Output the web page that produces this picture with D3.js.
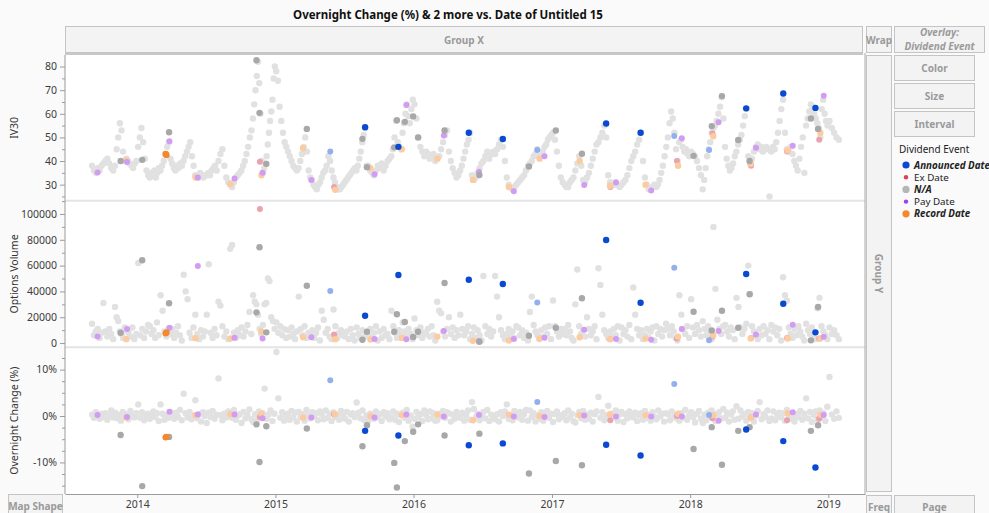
<!DOCTYPE html>
<meta charset="utf-8">
<style>
  body { margin: 0; background: #fafafa; }
  #chart svg { display: block; font-family: "Noto Sans", sans-serif; }
  .box { fill: #f3f3f3; stroke: #c4c4c4; stroke-width: 1; }
  .boxText { fill: #9a9a9a; font-size: 10px; font-weight: bold; text-anchor: middle; }
  .axis text { fill: #3c3c3c; font-size: 10.5px; font-family: "Noto Sans", sans-serif; }
  .axis path, .axis line { stroke: #9c9c9c; }
  .axisTitle { fill: #333; font-size: 10.5px; text-anchor: middle; }
</style>
<body>
<div id="chart"></div>
<script src="https://d3js.org/d3.v7.min.js"></script>
<script>
// ---- data ----
// N/A rows, grouped by month starting Sep 2013
const firstMonth = new Date(2013, 8, 1);

const iv30ByMonth = [
  [38,36,35,37,36,38], [39,40,41,39,37,36], [38,45,50,56,53,44,40], [41,40,39,38,37,39,40],
  [46,50,54,48,41,36,34], [33,35,34,36,33,35,37], [36,38,40,43,46,48,41], [39,37,36,38,37,39,38],
  [40,42,44,46,48,42,38], [34,33,33,35,34,33,34], [34,35,34,36,37,38,36], [40,43,45,38,33,31],
  [30,29,31,33,34,35], [36,38,40,43,46,50,53], [58,64,70,76,82,73,60,40,35], [37,39,42,47,52,57,61,66,75,80],
  [78,74,63,57,52,48,46], [44,42,40,38,37,36], [37,40,43,46,50,44,36], [33,32,30,29,28,30,31],
  [33,35,36,38,42,40,36], [33,31,29,28,28,29,30], [31,32,33,34,35,36,37], [36,38,41,44,48,51,54,38],
  [38,36,35,34,36,38], [37,39,36,38,40,41], [42,45,50,57,48,46,45], [52,56,60,64,59,56,62,66],
  [64,58,50,46,44,42], [44,43,41,42,43,40], [41,42,45,48,51,53], [44,40,37,35,33,34],
  [36,38,41,44,47,49,52], [34,32,33,35,37,39], [40,42,44,41,43,44], [43,45,47,49,46,40],
  [33,30,29,28,29,30], [31,32,33,34,36,38], [39,40,42,43,45,42], [42,44,46,47,49,50,51],
  [52,49,44,38,33,31], [30,29,29,31,32,33], [36,39,42,38,32,31], [33,35,38,41,44,47],
  [48,50,52,55,50,34], [31,30,30,31,30,29], [30,31,32,34,37,40], [42,44,47,49,52,40],
  [33,30,28,28,29,30], [29,30,32,35,38,42,46], [50,56,61,58,52,45,40], [48,49,46,44,45,43,42],
  [44,43,42,40,37,34], [28,32,37,42,45,48,52], [54,55,57,60,63,67,58], [46,41,38,36,37,39,42],
  [44,47,49,51,55,59,62], [42,39,41,44,46,47], [45,46,44,45,46,45,25], [44,46,45,48,52,57,62],
  [66,52,45,44,46,43], [40,38,36,41,46,50,35], [55,58,61,64,63,60,58], [56,54,50,62,66,60,57,55],
  [57,54,52,50,49]
];

// options volume in thousands
const volumeKByMonth = [
  [15,6,9,11,4,8], [31,9,5,11,7,3], [28,20,17,9,7,4,12], [10,8,5,12,3,7],
  [62,6,11,4,9,14], [13,7,10,4,16,6], [37,25,9,5,11,7], [11,4,8,13,6,2],
  [53,40,34,8,4,12], [22,7,3,10,5,9], [22,61,8,4,11,6], [32,29,13,5,9,3],
  [73,76,8,4,10,6], [12,5,9,14,24,7], [37,32,30,22,11,7,14], [30,31,50,48,20,17,11],
  [16,8,13,6,11,4], [10,5,12,7,3,9], [36,11,6,13,4,8], [6,10,4,8,12,2],
  [25,18,8,11,5,3], [26,13,4,8,10,6], [5,9,3,11,6,2], [12,7,4,10,5,8],
  [6,11,4,8,13,2], [9,4,11,6,7,3], [25,13,8,4,10,6], [16,9,5,11,7,3],
  [19,10,6,12,4,8], [7,11,5,13,6,2], [32,25,23,9,5,11], [20,7,12,4,10,6],
  [22,11,6,9,13,3], [7,12,4,10,6,2], [52,13,7,11,5,9], [52,36,20,10,6,3],
  [7,11,5,9,4,13], [12,6,10,4,8,2], [24,36,14,9,6,3], [10,5,12,7,13,3],
  [33,13,9,5,11,7], [11,6,14,9,4,2], [30,57,13,7,10,5], [20,11,6,9,13,3],
  [58,45,22,10,7,4], [9,5,11,6,13,2], [12,7,10,5,14,3], [43,22,11,6,10,3],
  [6,11,4,9,12,2], [13,7,11,5,10,15], [11,6,13,9,4,2], [37,22,11,7,13,4],
  [34,12,7,14,10,5], [17,11,6,13,9,3], [90,42,18,11,7,13], [14,9,5,12,10,3],
  [35,28,12,7,11,15], [60,38,13,9,6,3], [11,6,13,7,10,3], [14,9,12,6,11,2],
  [51,37,33,12,7,4], [11,6,13,9,5,2], [15,10,7,12,5,3], [27,35,13,9,6,3],
  [12,7,10,6,3]
];

// overnight change in %
const changeByMonth = [
  [0.3,-0.4,0.8,0.1,-0.6,0.5], [-0.2,0.6,-0.8,0.4,1.2,-0.3], [0.7,-0.5,0.2,-1.0,0.9,-0.1], [0.4,-0.7,1.1,0,-0.3,0.6],
  [2.5,-0.4,0.8,-0.9,0.2,0.5], [-0.6,0.3,1.0,-0.2,0.6,-1.1], [2.5,0.5,-0.8,0.1,-0.4,0.9], [0.2,-0.6,0.7,-0.2,1.3,-0.9],
  [4.8,0.6,-0.3,0.9,-0.7,0.1], [3.4,-0.5,0.4,-1.2,0.8,0], [-1.5,0.7,-0.2,1.1,-0.6,0.3], [8.1,0.2,-0.9,0.5,-0.3,1.0],
  [0.6,-0.4,1.3,-0.8,0.1,0.4], [-1.5,0.9,-0.5,0.2,1.4,-0.7], [-1.3,0.4,-0.9,1.0,-0.2,0.6], [5.9,-0.6,0.3,1.2,-1.1,0.5],
  [13.8,3.8,-0.4,0.8,-1.0,0.2], [0.5,-0.8,1.1,-0.3,0.7,-1.2], [0.9,-0.2,0.4,-1.0,1.3,0], [-0.5,0.8,-0.1,0.6,-0.9,1.0],
  [0.3,-0.7,1.2,-0.4,0.5,-1.1], [0.8,-0.3,0.1,-0.8,1.1,0.4], [-0.6,0.9,-1.2,0.3,0.6,-0.2], [2.9,0.7,-0.5,1.2,-0.9,0.1],
  [-1.0,0.5,0.2,-0.6,1.0,-0.3], [0.4,-1.1,0.8,-0.1,0.6,-0.7], [-0.3,1.0,-0.8,0.5,-1.3,0.2], [0.7,-0.4,1.3,-1.0,0.1,-2.3],
  [-0.6,0.9,-0.2,0.4,-1.1,1.2], [0.2,-0.7,1.0,-0.5,0.6,-1.0], [-0.9,0.5,-0.1,1.1,-0.4,0.8], [0.6,-1.2,0.3,-0.6,0.9,-0.2],
  [-0.4,0.7,-1.0,0.2,1.2,-0.8], [3.0,1.5,-0.3,0.5,-0.9,0.1], [0.9,-0.5,1.3,-1.1,0.3,-0.2], [-0.7,0.4,-1.2,0.8,0,1.0],
  [2.5,-0.6,0.2,-0.9,1.1,0.5], [-0.3,0.9,-0.8,0.4,1.3,-1.0], [1.2,-0.2,0.6,-1.2,0.1,-0.6], [0.8,-1.0,0.3,1.1,-0.4,0.5],
  [-1.3,0.4,1.0,-0.7,0.2,-0.2], [0.6,-0.9,1.2,-0.3,0.5,-1.1], [-1.4,0.2,0.9,-0.5,1.1,-0.8], [0.3,-0.6,0.7,-1.2,0.4,1.0],
  [4.1,-0.4,0.8,-0.9,0.1,2.2], [-0.8,0.5,-0.2,1.2,-1.0,0.3], [0.9,-1.3,0.4,-0.5,1.0,-0.1], [-0.3,0.7,-1.1,0.2,0.6,-0.8],
  [1.1,-0.4,0.3,-1.0,0.8,-0.2], [-0.7,1.2,-0.1,0.5,-1.2,0.6], [0.4,-0.9,1.0,-0.3,0.2,-0.6], [-1.0,0.6,-0.4,1.3,-0.8,0.1],
  [0.8,-0.2,-1.4,0.5,1.1,-0.6], [-1.5,0.3,-0.9,0.7,-0.3,1.2], [0.5,-1.1,0.2,0.9,-0.5,1.5], [-0.4,0.7,-1.2,0.3,1.0,-0.8],
  [2.1,-0.6,1.2,-0.1,0.4,-1.0], [0.9,-0.3,0.6,-1.2,0.1,1.1], [3.0,-0.7,0.4,-0.2,1.2,-1.1], [-0.5,1.0,-0.9,0.3,0.7,-0.3],
  [0.6,-1.0,1.3,-0.4,0.1,-0.7], [-1.2,0.4,-0.2,1.1,-0.8,0.5], [3.8,-0.5,0.9,-1.3,0.2,1.0], [-0.7,1.2,-0.1,0.6,-1.1,2.0],
  [8.4,0.3,-0.6,1.0,-0.4]
];

// dividend-event rows: [date, iv30, volume, change %]
const announcedRows = [
  ["2015-08-26",54.3,21200,-3.2], ["2015-11-22",46,52700,-4.2], ["2016-05-26",52,49100,-6.3],
  ["2016-08-24",49.3,45700,-5.9], ["2017-05-24",55.9,79800,-6.2], ["2017-08-23",52,31200,-8.5],
  ["2018-05-29",62.3,53500,-2.9], ["2018-09-04",68.6,30500,-5.4], ["2018-11-28",62.5,8300,-11.1]
];
const announcedDimRows = [
  ["2015-05-26",44,40300,7.7], ["2016-11-23",44.7,31500,3.0], ["2017-11-20",50.6,58400,6.9], ["2018-02-20",44.7,2100,0.2]
];
const naMarkedRows = [
  ["2013-11-18",40,8000,-4.1], ["2014-01-14",40.5,64100,-15.1], ["2014-03-26",52.2,30800,-4.5],
  ["2014-11-12",82.7,23800,-1.8], ["2014-11-20",60.4,74200,-9.9], ["2014-12-08",38.8,8300,-2.2],
  ["2015-03-25",53.6,44400,-2.7], ["2015-08-19",49.4,2600,-6.5], ["2015-08-31",37.4,8800,-2.0],
  ["2015-11-11",45.8,8800,-10.1], ["2015-11-18",57.3,22300,-15.4], ["2015-12-09",56.6,16300,-5.4],
  ["2015-12-31",58.9,4700,-3.4], ["2016-01-13",50,8800,-1.8], ["2016-03-23",52.9,46500,-4.2],
  ["2016-06-23",34.1,1000,-3.8], ["2016-11-01",37.7,5700,-12.4], ["2017-01-11",52.9,11900,-9.7],
  ["2017-03-21",43.1,34700,-10.6], ["2018-01-10",42.2,24300,-7.1], ["2018-02-27",54.8,9800,-2.4],
  ["2018-03-26",67.5,25000,-10.5], ["2018-05-08",48.9,11900,-3.2], ["2018-06-07",40,37800,-2.4],
  ["2018-11-16",58,2100,-3.2], ["2018-12-05",53.6,27900,-2.0]
];
const recordRows = [
  ["2014-03-17",43,7500,-4.6], ["2014-03-19",42.6,8200,-4.5]
];
const recordDimRows = [
  ["2013-12-03",40.5,3000,-0.3], ["2014-06-04",33,3800,0.2], ["2014-09-04",30.3,3500,0.4],
  ["2014-11-25",34,9000,0.5], ["2015-03-15",45.4,4500,-0.3], ["2015-06-08",27.8,3000,0.4],
  ["2015-09-09",37,2700,0], ["2015-12-01",45,4000,0.2], ["2016-03-04",41,5000,0.3],
  ["2016-06-06",32,1800,-0.9], ["2016-09-09",29,2000,0.3], ["2016-11-29",41,3500,0],
  ["2017-03-15",40,4500,0.2], ["2017-06-03",29.5,3000,0.4], ["2017-09-05",30,3500,0.2],
  ["2017-11-30",38,5000,0.5], ["2018-03-03",50.5,6000,0.2], ["2018-06-10",38.8,3500,-0.3],
  ["2018-09-16",44.5,3500,0.6], ["2018-12-11",52,3500,0.3]
];
const payRows = [
  ["2013-09-18",35.1,5000,0.2], ["2013-12-05",39.6,10900,-0.2], ["2014-03-27",48.4,11900,0.9],
  ["2014-06-10",33,59700,0.3], ["2014-09-15",32.6,4100,0.3], ["2014-11-28",35,3600,-0.5],
  ["2015-04-06",32,4400,-0.3], ["2015-09-20",34.4,3100,-0.3], ["2015-12-13",63.7,3000,0.3],
  ["2016-03-21",50.8,9300,-0.1], ["2016-06-22",35.5,1500,0.2], ["2016-09-22",27.2,3100,-0.1],
  ["2016-12-12",42,4100,-0.2], ["2017-03-27",29.8,10300,0.1], ["2017-06-19",30.9,3100,-0.1],
  ["2017-09-20",27.5,2600,-0.1], ["2017-12-10",49.6,10900,-0.1], ["2018-03-17",56.4,9300,-1.0],
  ["2018-06-24",45.6,6700,0.3], ["2018-09-29",46.5,14200,0.8], ["2018-12-20",67.6,4900,0.2]
];
const exRows = [
  ["2014-11-21",39.7,103900,-0.2], ["2015-06-05",29,6700,0.4], ["2017-06-04",29,3000,-0.9],
  ["2017-11-27",40,3500,0], ["2018-03-01",51.7,5000,-0.5], ["2018-06-11",38,4000,-0.3],
  ["2018-09-14",44,4000,-0.9], ["2018-12-08",49,3600,-0.6]
];

// tick values
const yearTicks = [2014, 2015, 2016, 2017, 2018, 2019];
const ivTicks = [30, 40, 50, 60, 70, 80];
const volumeTicks = [0, 20000, 40000, 60000, 80000, 100000];
const changeTicks = [-10, 0, 10];

const legendItems = [
  { label: "Announced Date", color: "#0a4ad3", big: true },
  { label: "Ex Date", color: "#d9405a", big: false },
  { label: "N/A", color: "#b5b5b5", big: true },
  { label: "Pay Date", color: "#a23fe0", big: false },
  { label: "Record Date", color: "#f5882a", big: true }
];

// ---- layout ----
const width = 989, height = 513;
const plotL = 65, plotR = 865;
const parse = d3.timeParse("%Y-%m-%d");

const svg = d3.select("#chart").append("svg")
  .attr("width", width).attr("height", height);

svg.append("rect").attr("width", width).attr("height", height).attr("fill", "#fafafa");

const x = d3.scaleTime()
  .domain([new Date(2013, 5, 24), new Date(2019, 3, 8)])
  .range([plotL, plotR]);

const panels = [
  { title: "IV30", top: 55, bottom: 200.7, domain: [23.2, 84.9], ticks: ivTicks, minor: 5, fmt: d => d },
  { title: "Options Volume", top: 200.7, bottom: 347.3, domain: [-3300, 110300], ticks: volumeTicks, minor: 10000, fmt: d => d },
  { title: "Overnight Change (%)", top: 347.3, bottom: 494, domain: [-16.8, 14.8], ticks: changeTicks, minor: 2.5, fmt: d => d + "%" }
];
panels.forEach(p => {
  p.y = d3.scaleLinear().domain(p.domain).range([p.bottom, p.top]);
});

// plot background
svg.append("rect")
  .attr("x", plotL).attr("y", 55).attr("width", plotR - plotL).attr("height", 494 - 55)
  .attr("fill", "#fff");

// panel separators
svg.selectAll(".sep").data([200.7, 347.3]).enter().append("line")
  .attr("x1", plotL).attr("x2", plotR).attr("y1", d => d).attr("y2", d => d)
  .attr("stroke", "#e4e4e4").attr("stroke-width", 2);

// build N/A bulk rows
function spread(byMonth, scale) {
  const out = [];
  byMonth.forEach((vals, m) => {
    const s = d3.timeMonth.offset(firstMonth, m), e = d3.timeMonth.offset(firstMonth, m + 1);
    vals.forEach((v, i) => out.push({ date: new Date(+s + (i + 0.5) / vals.length * (e - s)), v: v * scale }));
  });
  return out;
}
const bulk = [spread(iv30ByMonth, 1), spread(volumeKByMonth, 1000), spread(changeByMonth, 1)];

const groups = [
  { rows: exRows, color: "#eaa3ad", r: 3 },
  { rows: recordDimRows, color: "#fccb9f", r: 3.2 },
  { rows: payRows, color: "#d29cf2", r: 3 },
  { rows: announcedDimRows, color: "#93b0ee", r: 3 },
  { rows: naMarkedRows, color: "#a8a8a8", r: 3.2 },
  { rows: recordRows, color: "#f5882a", r: 3.2 },
  { rows: announcedRows, color: "#0a4ad3", r: 3.2 }
];

svg.append("clipPath").attr("id", "plotClip").append("rect")
  .attr("x", plotL).attr("y", 55).attr("width", plotR - plotL).attr("height", 439);

const marks = svg.append("g").attr("clip-path", "url(#plotClip)");

panels.forEach((p, pi) => {
  marks.append("g").selectAll("circle").data(bulk[pi]).enter().append("circle")
    .attr("cx", d => x(d.date)).attr("cy", d => p.y(d.v)).attr("r", 3.2)
    .attr("fill", "#e1e1e1");
  groups.forEach(g => {
    marks.append("g").selectAll("circle").data(g.rows).enter().append("circle")
      .attr("cx", d => x(parse(d[0]))).attr("cy", d => p.y(d[pi + 1])).attr("r", g.r)
      .attr("fill", g.color);
  });
});

// y axes
panels.forEach(p => {
  const minorVals = d3.range(Math.ceil(p.domain[0] / p.minor) * p.minor, p.domain[1], p.minor)
    .filter(v => !p.ticks.includes(v));
  svg.append("g").attr("class", "axis").attr("transform", `translate(${plotL},0)`)
    .call(d3.axisLeft(p.y).tickValues(minorVals).tickSize(3).tickFormat(""))
    .call(g => g.select(".domain").remove());
  svg.append("g").attr("class", "axis").attr("transform", `translate(${plotL},0)`)
    .call(d3.axisLeft(p.y).tickValues(p.ticks).tickSize(5).tickFormat(p.fmt).tickSizeOuter(0))
    .call(g => g.select(".domain").remove());
  svg.append("text").attr("class", "axisTitle")
    .attr("transform", `translate(18,${(p.top + p.bottom) / 2}) rotate(-90)`)
    .text(p.title);
});
svg.append("line").attr("x1", plotL).attr("x2", plotL).attr("y1", 55).attr("y2", 494).attr("stroke", "#9c9c9c");

// x axis
svg.append("g").attr("class", "axis").attr("transform", "translate(0,494)")
  .call(d3.axisBottom(x).tickValues(yearTicks.map(yr => new Date(yr, 0, 1)))
    .tickFormat(d3.timeFormat("%Y")).tickSize(4).tickSizeOuter(0))
  .call(g => g.select(".domain").attr("stroke", "#a8a8a8"));

// plot right border
svg.append("line").attr("x1", plotR).attr("x2", plotR).attr("y1", 53).attr("y2", 494).attr("stroke", "#a8a8a8");

// title
svg.append("text").attr("x", 448).attr("y", 19).attr("text-anchor", "middle")
  .attr("font-size", 11.5).attr("font-weight", "bold").attr("fill", "#111")
  .text("Overnight Change (%) & 2 more vs. Date of Untitled 15");

// drop zones
function box(x0, y0, w, h, label, rotate) {
  svg.append("rect").attr("class", "box").attr("x", x0).attr("y", y0).attr("width", w).attr("height", h);
  if (!label) return;
  const t = svg.append("text").attr("class", "boxText");
  if (rotate) t.attr("transform", `translate(${x0 + w / 2 - 4},${y0 + h / 2}) rotate(90)`);
  else t.attr("x", x0 + w / 2).attr("y", y0 + h / 2 + 4);
  t.text(label);
}
box(65.5, 26.5, 797, 26, "Group X");
svg.append("line").attr("x1", 65).attr("x2", 863).attr("y1", 54).attr("y2", 54).attr("stroke", "#c8c8c8").attr("stroke-width", 2);
box(866.5, 26.5, 25, 26, "Wrap");
box(894.5, 26.5, 90, 26, null);
svg.append("text").attr("class", "boxText").attr("x", 939.5).attr("y", 36).attr("font-size", 8.8)
  .attr("font-style", "italic").text("Overlay:");
svg.append("text").attr("class", "boxText").attr("x", 939.5).attr("y", 49.5).attr("font-size", 8.8)
  .attr("font-style", "italic").text("Dividend Event");
box(866.5, 55.5, 25, 436, "Group Y", true);
box(894.5, 55.5, 80, 25, "Color");
box(894.5, 83.5, 80, 25, "Size");
box(894.5, 111.5, 80, 25, "Interval");
box(8.5, 494.5, 54, 30, null);
svg.append("text").attr("class", "boxText").attr("x", 35.5).attr("y", 510).attr("font-size", 9.5).text("Map Shape");
box(866.5, 495.5, 25, 30, null);
svg.append("text").attr("class", "boxText").attr("x", 879).attr("y", 511).attr("font-size", 9.5).text("Freq");
box(894.5, 495.5, 80, 30, null);
svg.append("text").attr("class", "boxText").attr("x", 934.5).attr("y", 511).attr("font-size", 9.5).text("Page");

// legend
const legend = svg.append("g").attr("transform", "translate(899,0)");
legend.append("text").attr("x", 0).attr("y", 153).attr("font-size", 10).attr("fill", "#222")
  .text("Dividend Event");
const li = legend.selectAll(".li").data(legendItems).enter().append("g")
  .attr("transform", (d, i) => `translate(0,${165 + i * 12.2})`);
li.append("circle").attr("cx", 7).attr("cy", 0).attr("r", d => d.big ? 3.6 : 2.2).attr("fill", d => d.color);
li.append("text").attr("x", 15).attr("y", 3.5).attr("font-size", 9.8).attr("fill", "#222")
  .attr("font-weight", d => d.big ? "bold" : "normal")
  .attr("font-style", d => d.big ? "italic" : "normal")
  .text(d => d.label);
</script>
